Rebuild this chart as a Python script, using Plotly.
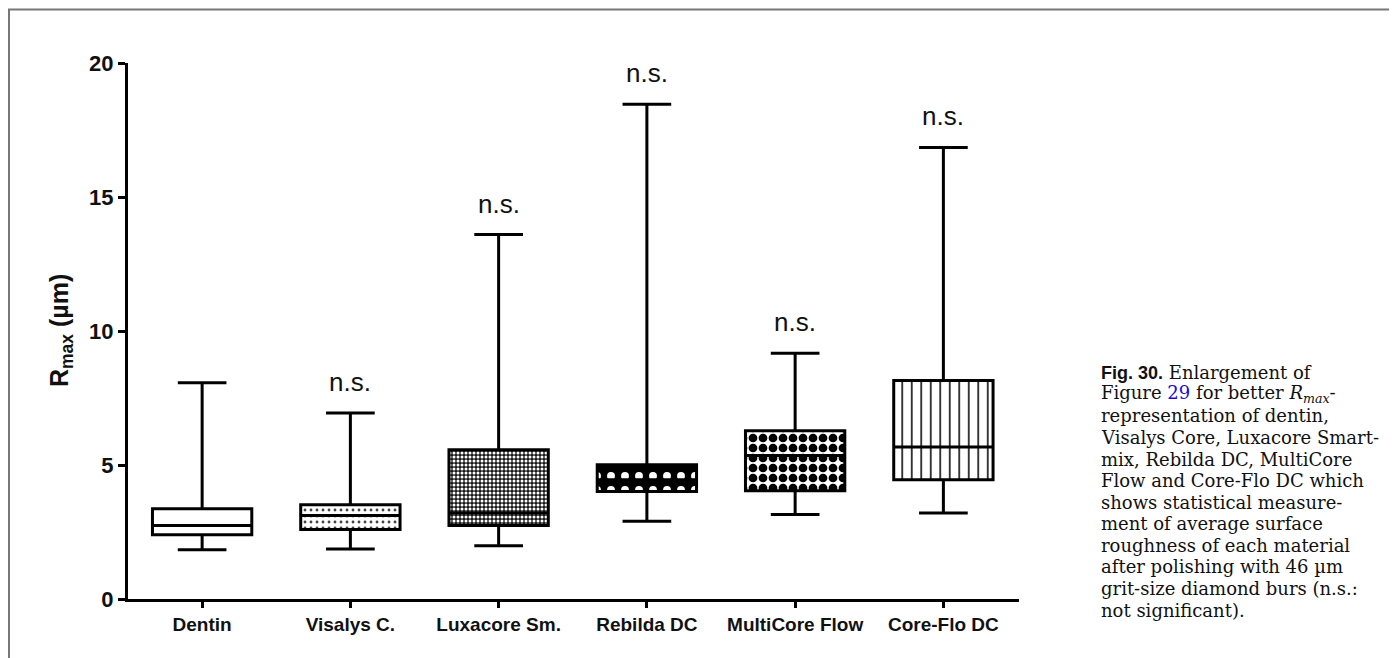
import plotly.graph_objects as go

categories = ["Dentin", "Visalys C.", "Luxacore Sm.", "Rebilda DC", "MultiCore Flow", "Core-Flo DC"]
lower_whisker = [1.84, 1.87, 1.99, 2.90, 3.15, 3.21]
q1_values = [2.40, 2.59, 2.74, 4.01, 4.04, 4.45]
median_values = [2.74, 3.12, 3.21, 4.45, 5.35, 5.67]
q3_values = [3.37, 3.52, 5.57, 5.01, 6.28, 8.15]
upper_whisker = [8.07, 6.94, 13.60, 18.46, 9.17, 16.85]
significance = ["", "n.s.", "n.s.", "n.s.", "n.s.", "n.s."]
y_ticks = [0, 5, 10, 15, 20]

caption_lines = [
    "<span style='font-family:Liberation Sans, Arial, sans-serif'><b>Fig. 30.</b></span> Enlargement of",
    "Figure <span style='color:#1a0dcc'>29</span> for better <i>R<sub>max</sub></i>-",
    "representation of dentin,",
    "Visalys Core, Luxacore Smart-",
    "mix, Rebilda DC, MultiCore",
    "Flow and Core-Flo DC which",
    "shows statistical measure-",
    "ment of average surface",
    "roughness of each material",
    "after polishing with 46 µm",
    "grit-size diamond burs (n.s.:",
    "not significant).",
]

# fill patterns (style only)
pat_shape = ["", ".", ".", ".", ".", "|"]
pat_fg = ["black", "#444444", "white", "white", "black", "black"]
pat_bg = ["white", "white", "#1a1a1a", "black", "white", "white"]
pat_size = [8, 6, 4, 14, 10, 9.5]
pat_sol = [0.2, 0.18, 0.45, 0.25, 0.6, 0.16]

FONT = "Liberation Sans, Arial, sans-serif"

# plot-area geometry (page pixels) used to place paper-referenced items
PX_LEFT, PX_RIGHT, PX_TOP, PX_BOTTOM = 128.0, 1019.0, 62.7, 599.5
PW, PH = PX_RIGHT - PX_LEFT, PX_BOTTOM - PX_TOP


def px_x(x):
    return (x - PX_LEFT) / PW


def px_y(y):
    return (PX_BOTTOM - y) / PH


fig = go.Figure()

fig.add_trace(go.Bar(
    x=categories,
    y=[h - l for h, l in zip(q3_values, q1_values)],
    base=q1_values,
    width=0.67,
    marker=dict(
        color="white",
        line=dict(width=0),
        pattern=dict(shape=pat_shape, fgcolor=pat_fg, bgcolor=pat_bg,
                     size=pat_size, solidity=pat_sol, fillmode="replace"),
    ),
    hoverinfo="skip",
    showlegend=False,
))

fig.add_trace(go.Box(
    x=categories,
    q1=q1_values,
    median=median_values,
    q3=q3_values,
    lowerfence=lower_whisker,
    upperfence=upper_whisker,
    width=0.67,
    whiskerwidth=0.49,
    line=dict(color="black", width=3),
    fillcolor="rgba(0,0,0,0)",
    showlegend=False,
    hoverinfo="skip",
))

for cat, top, lab in zip(categories, upper_whisker, significance):
    if lab:
        fig.add_annotation(x=cat, y=top, xref="x", yref="y", text=lab,
                           showarrow=False, yshift=31, yanchor="middle",
                           font=dict(family=FONT, size=26, color="#111111"))

# y axis title
fig.add_annotation(x=px_x(61), y=0.5, xref="paper", yref="paper",
                   text="<b>R<sub>max</sub> (µm)</b>", textangle=-90,
                   showarrow=False, xanchor="center", yanchor="middle",
                   font=dict(family=FONT, size=25, color="#111111"))

for i, line in enumerate(caption_lines):
    fig.add_annotation(x=px_x(1099), y=px_y(373 + 21.6 * i), xref="paper", yref="paper",
                       text=line, showarrow=False, xanchor="left", yanchor="middle",
                       align="left",
                       font=dict(family="DejaVu Serif, serif", size=18, color="#111111"))

# outer frame
fig.add_shape(type="rect", xref="paper", yref="paper",
              x0=px_x(9), x1=px_x(1390), y0=px_y(680), y1=px_y(9),
              line=dict(color="#777777", width=2), fillcolor="rgba(0,0,0,0)")

# page body has an 8px margin: figure is laid out in page pixels minus 8
fig.update_layout(
    width=1389, height=650,
    margin=dict(l=PX_LEFT - 8, r=1389 - (PX_RIGHT - 8), t=PX_TOP - 8, b=650 - (PX_BOTTOM - 8)),
    paper_bgcolor="white", plot_bgcolor="white",
    showlegend=False,
    barmode="overlay",
    xaxis=dict(type="category", range=[-0.5, 5.51], showline=True, linewidth=3,
               linecolor="black", ticks="outside", ticklen=6, tickwidth=2.5,
               tickcolor="black", showgrid=False, zeroline=False,
               tickfont=dict(family=FONT, size=19, color="#111111", weight="bold")),
    yaxis=dict(range=[0, 20], tickvals=y_ticks, showline=True, linewidth=3,
               linecolor="black", ticks="outside", ticklen=7, tickwidth=2.5,
               tickcolor="black", showgrid=False, zeroline=False,
               tickfont=dict(family=FONT, size=22, color="#111111", weight="bold")),
)

fig.write_html("out.html")
